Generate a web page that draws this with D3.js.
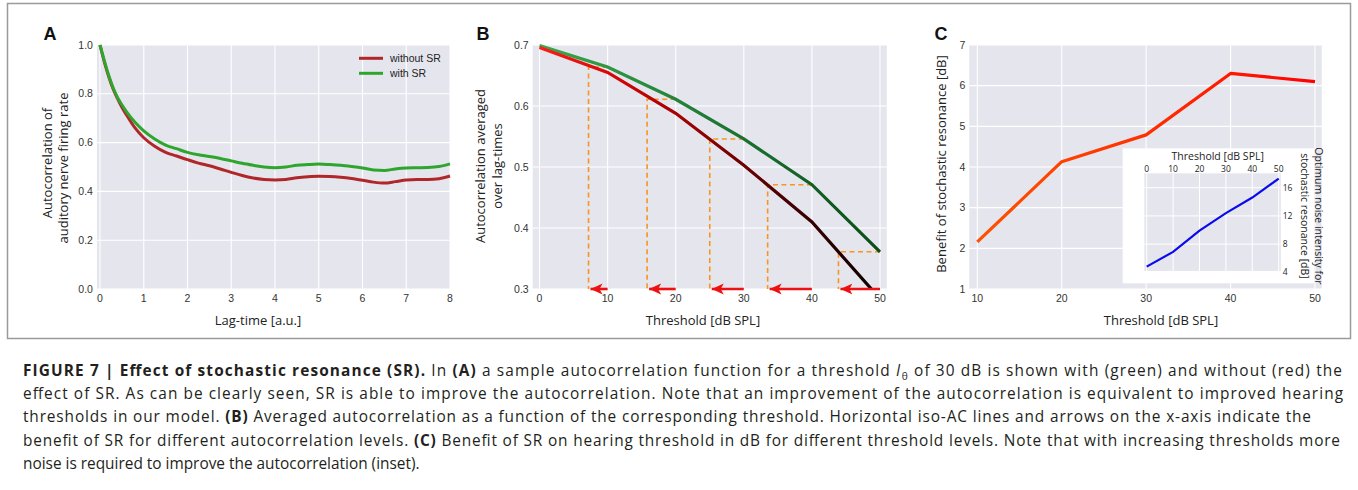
<!DOCTYPE html>
<html><head><meta charset="utf-8">
<script src="https://cdn.jsdelivr.net/npm/d3@7"></script>
<style>body{margin:0;background:#fff}svg{display:block}</style>
</head><body>
<svg id="c" width="1358" height="490"></svg>
<script>
// ---------- DATA ----------
const aLag        = [0,0.1,0.2,0.3,0.4,0.5,0.6,0.8,1.0,1.25,1.5,1.75,2,2.25,2.5,2.75,3,3.25,3.5,3.75,4,4.25,4.5,4.75,5,5.25,5.5,5.75,6,6.25,6.5,6.75,7,7.25,7.5,7.75,8];
const aWithoutSR  = [1.0,0.93,0.87,0.82,0.78,0.745,0.715,0.66,0.62,0.585,0.56,0.545,0.53,0.516,0.505,0.492,0.478,0.465,0.455,0.449,0.447,0.449,0.456,0.46,0.462,0.461,0.458,0.453,0.446,0.438,0.434,0.44,0.447,0.449,0.449,0.452,0.463];
const aWithSR     = [1.0,0.935,0.875,0.825,0.785,0.755,0.728,0.683,0.648,0.615,0.59,0.575,0.56,0.55,0.543,0.535,0.525,0.515,0.507,0.5,0.497,0.5,0.507,0.51,0.512,0.51,0.507,0.502,0.496,0.488,0.486,0.492,0.496,0.497,0.498,0.502,0.513];
const aTicksX     = [0,1,2,3,4,5,6,7,8];
const aTicksY     = [0,0.2,0.4,0.6,0.8,1.0];
const aLegend     = ["without SR","with SR"];

const bThreshold  = [0,10,20,30,40,50];
const bWithoutSR  = [0.696,0.655,0.588,0.503,0.41,0.284];
const bWithSR     = [0.699,0.664,0.611,0.546,0.471,0.361];
const bIsoFrom    = [10,20,30,40,50];          // threshold with SR
const bIsoTo      = [7.2,15.8,25.0,33.5,43.9]; // equivalent threshold without SR
const bTicksX     = [0,10,20,30,40,50];
const bTicksY     = [0.3,0.4,0.5,0.6,0.7];

const cThreshold  = [10,20,30,40,50];
const cBenefit    = [2.16,4.13,4.79,6.30,6.10];
const cTicksX     = [10,20,30,40,50];
const cTicksY     = [1,2,3,4,5,6,7];

const inThreshold = [0,10,20,30,40,50];
const inNoise     = [4.8,6.9,9.9,12.4,14.6,17.3];
const inTicksX    = [0,10,20,30,40,50];
const inTicksY    = [4,8,12,16];

// ---------- SETUP ----------
const svg = d3.select("#c");
const BG = "#e5e5ee";
const TICKF = "'Liberation Sans', Arial, sans-serif";
const LABF = "'Open Sans', sans-serif";
const defs = svg.append("defs");

svg.append("rect").attr("x",7.5).attr("y",3.5).attr("width",1343).attr("height",335)
  .attr("fill","none").attr("stroke","#9a9a9a").attr("stroke-width",1.5);

function grad(id, x1, x2, stops){
  const g = defs.append("linearGradient").attr("id",id).attr("gradientUnits","userSpaceOnUse")
    .attr("x1",x1).attr("x2",x2).attr("y1",0).attr("y2",0);
  stops.forEach(s=>g.append("stop").attr("offset",s[0]).attr("stop-color",s[1]));
}

function panel(x, y, xlo, xhi, ylo, yhi, xt, yt, xfmt, yfmt){
  const g = svg.append("g");
  g.append("rect").attr("x",x(xlo)).attr("y",y(yhi)).attr("width",x(xhi)-x(xlo)).attr("height",y(ylo)-y(yhi)).attr("fill",BG);
  g.selectAll(".gx").data(xt).join("line").attr("x1",d=>x(d)).attr("x2",d=>x(d)).attr("y1",y(ylo)).attr("y2",y(yhi)).attr("stroke","#fff").attr("stroke-width",1.1);
  g.selectAll(".gy").data(yt).join("line").attr("y1",d=>y(d)).attr("y2",d=>y(d)).attr("x1",x(xlo)).attr("x2",x(xhi)).attr("stroke","#fff").attr("stroke-width",1.1);
  g.selectAll(".tx").data(xt).join("text").attr("x",d=>x(d)).attr("y",y(ylo)+12.5).attr("text-anchor","middle")
    .attr("font-family",TICKF).attr("font-size",10.5).attr("fill","#333").text(xfmt);
  g.selectAll(".ty").data(yt).join("text").attr("x",x(xlo)-4).attr("y",d=>y(d)+3.6).attr("text-anchor","end")
    .attr("font-family",TICKF).attr("font-size",10.5).attr("fill","#333").text(yfmt);
  return g;
}
function label(txt, x, y, rot, size){
  svg.append("text").attr("transform",`translate(${x},${y}) rotate(${rot||0})`).attr("text-anchor","middle")
    .attr("dominant-baseline","central").attr("font-family",LABF).attr("font-size",size||13).attr("fill","#222").text(txt);
}
function letter(t,x,y){
  svg.append("text").attr("x",x).attr("y",y).attr("text-anchor","middle").attr("dominant-baseline","central")
    .attr("font-family",TICKF).attr("font-weight","bold").attr("font-size",18).attr("fill","#111").text(t);
}

// ---------- PANEL A ----------
{
  const x = d3.scaleLinear().domain([0,8]).range([100,450]);
  const y = d3.scaleLinear().domain([0,1]).range([289,45]);
  panel(x,y,-0.07,8,0,1,aTicksX,aTicksY,d=>d,d3.format(".1f"));
  const line = d3.line().x((d,i)=>x(aLag[i])).y(d=>y(d)).curve(d3.curveMonotoneX);
  const cols = ["#b0272a","#2ea62e"];
  [aWithoutSR,aWithSR].forEach((s,k)=>{
    svg.append("path").attr("d",line(s)).attr("fill","none").attr("stroke",cols[k]).attr("stroke-width",3).attr("stroke-linejoin","round");
  });
  aLegend.forEach((t,k)=>{
    svg.append("line").attr("x1",359).attr("x2",383).attr("y1",58.3+15*k).attr("y2",58.3+15*k).attr("stroke",cols[k]).attr("stroke-width",3);
    svg.append("text").attr("x",390).attr("y",58.3+15*k).attr("dominant-baseline","central").attr("font-family",TICKF).attr("font-size",10.5).attr("fill","#222").text(t);
  });
  letter("A",50,34);
  label("Lag-time [a.u.]",258,320);
  label("Autocorrelation of",47,163,-90);
  label("auditory nerve firing rate",63,168,-90);
}

// ---------- PANEL B ----------
{
  const x = d3.scaleLinear().domain([0,50]).range([539.5,880]);
  const y = d3.scaleLinear().domain([0.3,0.7]).range([289,45]);
  panel(x,y,-1,51,0.3,0.7,bTicksX,bTicksY,d=>d,d3.format(".1f"));
  grad("gRed",x(0),x(50),[[0,"#ff1c1c"],[0.25,"#cc0505"],[0.5,"#8a0000"],[0.75,"#400000"],[1,"#0a0000"]]);
  grad("gGreen",x(0),x(50),[[0,"#3aa84a"],[0.5,"#1f7a35"],[1,"#0b4d18"]]);
  defs.append("clipPath").attr("id","clipB").append("rect").attr("x",x(-1)).attr("y",y(0.7)-3).attr("width",x(51)-x(-1)).attr("height",y(0.3)-y(0.7)+3);
  const line = d3.line().x((d,i)=>x(bThreshold[i])).y(d=>y(d));
  const iso = bIsoFrom.map((t,i)=>({from:t,to:bIsoTo[i],lev:bWithSR[bThreshold.indexOf(t)]}));
  const gi = svg.append("g").attr("stroke","#f7951e").attr("stroke-width",1.6).attr("stroke-dasharray","5,3.5").attr("fill","none");
  iso.forEach(d=>{
    gi.append("path").attr("d",`M${x(d.from)},${y(d.lev)}H${x(d.to)}V${y(0.3)}`);
  });
  svg.append("path").attr("d",line(bWithSR)).attr("fill","none").attr("stroke","url(#gGreen)").attr("stroke-width",3.2).attr("clip-path","url(#clipB)");
  svg.append("path").attr("d",line(bWithoutSR)).attr("fill","none").attr("stroke","url(#gRed)").attr("stroke-width",3.2).attr("clip-path","url(#clipB)");
  defs.append("marker").attr("id","arr").attr("markerUnits","userSpaceOnUse").attr("markerWidth",14).attr("markerHeight",12)
    .attr("refX",12).attr("refY",6).attr("orient","auto").append("path").attr("d","M0,0.5 L12,6 L0,11.5 L3,6 Z").attr("fill","#ee1111");
  iso.forEach(d=>{
    svg.append("line").attr("x1",x(d.from)).attr("x2",x(d.to)+2).attr("y1",y(0.3)).attr("y2",y(0.3))
      .attr("stroke","#ee1111").attr("stroke-width",2.6).attr("marker-end","url(#arr)");
  });
  letter("B",483,34);
  label("Threshold [dB SPL]",703,320);
  label("Autocorrelation averaged",480,166,-90);
  label("over lag-times",497,166,-90);
}

// ---------- PANEL C ----------
{
  const x = d3.scaleLinear().domain([10,50]).range([977.3,1315]);
  const y = d3.scaleLinear().domain([1,7]).range([289,45]);
  panel(x,y,9.05,50.8,1,7,cTicksX,cTicksY,d=>d,d=>d);
  grad("gC",x(10),x(50),[[0,"#ff5200"],[0.5,"#ff3000"],[1,"#ff0000"]]);
  const line = d3.line().x((d,i)=>x(cThreshold[i])).y(d=>y(d));
  svg.append("path").attr("d",line(cBenefit)).attr("fill","none").attr("stroke","url(#gC)").attr("stroke-width",3.2).attr("stroke-linejoin","round");
  letter("C",941,34);
  label("Threshold [dB SPL]",1161,320);
  label("Benefit of stochastic resonance [dB]",941,164,-90);

  svg.append("rect").attr("x",1122.7).attr("y",148.3).attr("width",191.5).attr("height",135).attr("fill","#fff");
  const xi = d3.scaleLinear().domain([0,50]).range([1146.7,1278.7]);
  const yi = d3.scaleLinear().domain([4,16]).range([272.3,187.7]);
  const gi = svg.append("g");
  gi.append("rect").attr("x",xi(-0.9)).attr("y",yi(18.04)).attr("width",xi(50.8)-xi(-0.9)).attr("height",yi(4.18)-yi(18.04)).attr("fill",BG);
  gi.selectAll(".gx").data(inTicksX).join("line").attr("x1",d=>xi(d)).attr("x2",d=>xi(d)).attr("y1",yi(4.18)).attr("y2",yi(18.04)).attr("stroke","#fff");
  gi.selectAll(".gy").data(inTicksY).join("line").attr("y1",d=>yi(d)).attr("y2",d=>yi(d)).attr("x1",xi(-0.9)).attr("x2",xi(50.8)).attr("stroke","#fff");
  gi.selectAll(".tx").data(inTicksX).join("text").attr("x",d=>xi(d)).attr("y",172).attr("text-anchor","middle")
    .attr("font-family",LABF).attr("font-size",8.5).attr("fill","#222").text(d=>d);
  gi.selectAll(".ty").data(inTicksY).join("text").attr("x",1282.7).attr("y",d=>yi(d)+3).attr("text-anchor","start")
    .attr("font-family",LABF).attr("font-size",8.5).attr("fill","#222").text(d=>d);
  const li = d3.line().x((d,i)=>xi(inThreshold[i])).y(d=>yi(d));
  gi.append("path").attr("d",li(inNoise)).attr("fill","none").attr("stroke","#0a0aee").attr("stroke-width",2.2);
  label("Threshold [dB SPL]",1217.7,156,0,10.5);
  label("Optimum noise intensity for",1319,216,90,10.5);
  label("stochastic resonance [dB]",1305,216,90,10.5);
}

// ---------- CAPTION ----------
const capLines = [
  [["FIGURE 7 | Effect of stochastic resonance (SR).","b"],[" In ",""],["(A)","b"],[" a sample autocorrelation function for a threshold ",""],["I","i"],["θ","sub"],[" of 30 dB is shown with (green) and without (red) the",""]],
  [["effect of SR. As can be clearly seen, SR is able to improve the autocorrelation. Note that an improvement of the autocorrelation is equivalent to improved hearing",""]],
  [["thresholds in our model. ",""],["(B)","b"],[" Averaged autocorrelation as a function of the corresponding threshold. Horizontal iso-AC lines and arrows on the x-axis indicate the",""]],
  [["benefit of SR for different autocorrelation levels. ",""],["(C)","b"],[" Benefit of SR on hearing threshold in dB for different threshold levels. Note that with increasing thresholds more",""]],
  [["noise is required to improve the autocorrelation (inset).",""]]
];
const capEnds = [1342,1343,1311,1340,null];
const FS = 15.4;
capLines.forEach((ln,i)=>{
  const t = svg.append("text").attr("x",23).attr("y",376+23.2*i).attr("font-family",LABF).attr("font-size",FS).attr("fill","#231f20");
  let shifted=false;
  const subs=[];
  ln.forEach(([s,st])=>{
    const sp = t.append("tspan").text(s);
    if(st==="b") sp.attr("font-weight","bold");
    if(st==="i") sp.attr("font-style","italic");
    if(st==="sub"){ sp.attr("font-size",FS*0.66).attr("dy",3.5).attr("dx",0.5); subs.push(sp); shifted=true; }
    else if(shifted){ sp.attr("dy",-3.5); shifted=false; }
  });
  const target = capEnds[i];
  if(target){
    const w = t.node().getComputedTextLength(), goal = target-23;
    if(w > goal){
      const f = FS*goal/w;
      t.attr("font-size",f); subs.forEach(s=>s.attr("font-size",f*0.66));
    } else {
      t.attr("textLength",goal).attr("lengthAdjust","spacing");
    }
  }
});
</script>
</body></html>
